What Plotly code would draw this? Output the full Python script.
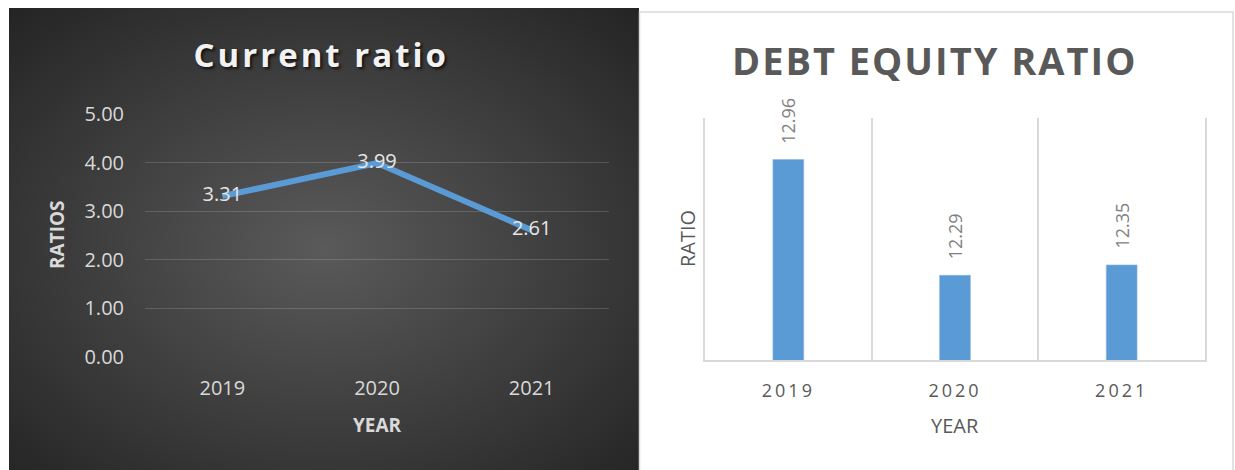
import base64
import plotly.graph_objects as go

# ---- data ----
years = ["2019", "2020", "2021"]
current_ratio = [3.31, 3.99, 2.61]
debt_equity = [12.96, 12.29, 12.35]
left_yticks = [0, 1, 2, 3, 4, 5]

W, H = 1235, 470
FONT = "Open Sans"
BLUE = "#5B9BD5"


def px(x):
    return x / W


def py(y):
    return 1 - y / H


fig = go.Figure()

fig.add_trace(go.Scatter(
    x=years, y=current_ratio, mode="lines+text",
    text=[f"{v:.2f}" for v in current_ratio], textposition="middle center",
    textfont=dict(family=FONT, size=20, color="#E6E6E6"),
    line=dict(color=BLUE, width=6),
    xaxis="x", yaxis="y", showlegend=False, hoverinfo="skip", cliponaxis=False,
))

fig.add_trace(go.Bar(
    x=years, y=debt_equity, width=0.185,
    marker=dict(color=BLUE, line=dict(color="#8DB9E6", width=0.6)),
    xaxis="x2", yaxis="y2", showlegend=False, hoverinfo="skip",
))

annotations = []
for i, v in enumerate(debt_equity):
    annotations.append(dict(
        x=i, y=v, xref="x2", yref="y2", text=f"{v:.2f}", showarrow=False,
        textangle=-90, yanchor="bottom", xanchor="center", yshift=14,
        font=dict(family=FONT, size=18, color="#7F7F7F"),
    ))

annotations += [
    dict(x=px(322), y=py(54), xref="paper", yref="paper", text="<b>Current ratio</b>",
         showarrow=False, xanchor="center", yanchor="middle",
         font=dict(family=FONT, size=33, color="#F2F2F2", shadow="2px 2px 3px rgba(0,0,0,0.7)")),
    dict(x=px(57), y=py(235), xref="paper", yref="paper", text="<b>RATIOS</b>",
         showarrow=False, textangle=-90, xanchor="center", yanchor="middle",
         font=dict(family=FONT, size=19, color="#D9D9D9")),
    dict(x=px(377), y=py(425), xref="paper", yref="paper", text="<b>YEAR</b>",
         showarrow=False, xanchor="center", yanchor="middle",
         font=dict(family=FONT, size=19, color="#D9D9D9")),
    dict(x=px(934), y=py(60), xref="paper", yref="paper", text="<b>DEBT EQUITY RATIO</b>",
         showarrow=False, xanchor="center", yanchor="middle",
         font=dict(family=FONT, size=38, color="#595959")),
    dict(x=px(687), y=py(239), xref="paper", yref="paper", text="RATIO",
         showarrow=False, textangle=-90, xanchor="center", yanchor="middle",
         font=dict(family=FONT, size=20, color="#595959")),
    dict(x=px(955), y=py(425), xref="paper", yref="paper", text="YEAR",
         showarrow=False, xanchor="center", yanchor="middle",
         font=dict(family=FONT, size=20, color="#595959")),
]

svg = (
    '<svg xmlns="http://www.w3.org/2000/svg" width="629" height="462" viewBox="0 0 629 462" '
    'preserveAspectRatio="none"><defs><radialGradient id="g" cx="50%" cy="52%" r="72%">'
    '<stop offset="0%" stop-color="#5A5A5A"/><stop offset="100%" stop-color="#242424"/>'
    '</radialGradient></defs><rect width="629" height="462" fill="url(#g)"/></svg>'
)
src = "data:image/svg+xml;base64," + base64.b64encode(svg.encode()).decode()

fig.update_layout(
    width=W, height=H, margin=dict(l=0, r=0, t=0, b=0, pad=0, autoexpand=False),
    paper_bgcolor="white", plot_bgcolor="rgba(0,0,0,0)",
    font=dict(family=FONT),
    images=[dict(source=src, xref="paper", yref="paper", x=px(9), y=py(8),
                 sizex=px(630), sizey=462 / H, xanchor="left", yanchor="top",
                 sizing="stretch", layer="below")],
    shapes=[dict(type="rect", xref="paper", yref="paper", x0=px(639.5), x1=px(1233),
                 y0=-0.05, y1=py(12), line=dict(color="#D9D9D9", width=1.5),
                 fillcolor="rgba(0,0,0,0)", layer="below")],
    annotations=annotations,
    xaxis=dict(domain=[px(145), px(609)], type="category", range=[-0.5, 2.5],
               showgrid=False, zeroline=False, showline=False, ticks="",
               ticklabelstandoff=17, automargin=False,
               tickfont=dict(family=FONT, size=20, color="#D9D9D9"), anchor="y"),
    yaxis=dict(domain=[py(357), py(114)], range=[0, 5], tickvals=left_yticks,
               tickformat=".2f", showgrid=True, gridcolor="rgba(255,255,255,0.16)",
               gridwidth=1.2, zeroline=False, showline=False, ticks="",
               ticklabelstandoff=20, automargin=False,
               tickfont=dict(family=FONT, size=20, color="#D9D9D9"), anchor="x"),
    xaxis2=dict(domain=[px(705), px(1205)], type="category", range=[-0.5, 2.5],
                tickson="boundaries", showgrid=True, gridcolor="#D9D9D9", gridwidth=1.5,
                showline=True, linecolor="#D9D9D9", linewidth=1.5, ticks="",
                ticklabelstandoff=14, zeroline=False, automargin=False,
                tickfont=dict(family=FONT, size=18, color="#595959"), anchor="y2"),
    yaxis2=dict(domain=[py(360), py(118)], range=[11.8, 13.2], showticklabels=False,
                showgrid=False, zeroline=False, showline=True, mirror=True,
                automargin=False,
                linecolor="#D9D9D9", linewidth=1.5, ticks="", anchor="x2"),
)

post = """
var gd = document.getElementById('{plot_id}');
gd.querySelectorAll('text').forEach(function(t){
  var s = t.textContent;
  if (s === 'Current ratio') t.style.letterSpacing = '3px';
  if (s === 'DEBT EQUITY RATIO') t.style.letterSpacing = '2px';
});
gd.querySelectorAll('.x2tick text').forEach(function(t){ t.style.letterSpacing = '3px'; });
"""

fig.write_html("out.html", post_script=post)
